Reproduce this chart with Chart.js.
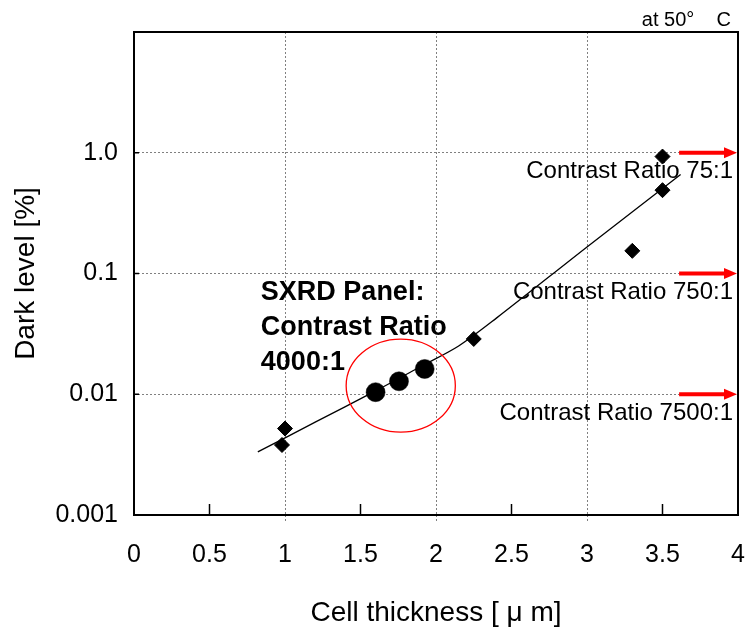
<!DOCTYPE html>
<html>
<head>
<meta charset="utf-8">
<script src="https://cdn.jsdelivr.net/npm/chart.js@4.4.0/dist/chart.umd.min.js"></script>
<style>
  html, body { margin: 0; padding: 0; background: #fff; overflow: hidden; }
  #wrap { width: 748px; height: 630px; }
  canvas { display: block; }
</style>
</head>
<body>
<div id="wrap"><canvas id="myChartDark"></canvas></div>
<script>
// measured cells (diamonds)
const sampleX = [0.98, 1.0, 2.25, 3.30, 3.50, 3.50];
const sampleY = [0.0038, 0.0052, 0.0287, 0.154, 0.49, 0.93];
// SXRD panels (big dots)
const sxrdX = [1.60, 1.755, 1.925];
const sxrdY = [0.0104, 0.0128, 0.0162];
// fitted trend line
const fitX = [0.82, 1.2, 1.6, 1.9, 2.15, 2.4, 3.0, 3.62];
const fitY = [0.00333, 0.00587, 0.01066, 0.01698, 0.0251, 0.0427, 0.166, 0.661];
// contrast ratio reference levels
const refLevels = [1.0, 0.1, 0.01];
const refLabels = ["Contrast Ratio 75:1", "Contrast Ratio 750:1", "Contrast Ratio 7500:1"];
const refArrowFrom = 3.61;
// axes
const yTicks = [0.001, 0.01, 0.1, 1, 10];
const yTickLabels = ["0.001", "0.01", "0.1", "1.0", ""];
const yGrid = [0.01, 0.1, 1];
const xTicks = [0, 0.5, 1, 1.5, 2, 2.5, 3, 3.5, 4];
const xGrid = [1, 2, 3];
const xInnerTicks = [0.5, 1.5, 2.5, 3.5];
// red ring round the SXRD points (data range)
const ringX = [1.405, 2.128];
const ringY = [0.00485, 0.0286];
// note text
const noteLines = ["SXRD Panel:", "Contrast Ratio", "4000:1"];
const notePos = { x: 0.84, y: 0.07 };

Chart.defaults.font.family = '"Liberation Sans", Arial, sans-serif';
Chart.defaults.color = '#000';

const toPts = (xs, ys) => xs.map((x, i) => ({ x: x, y: ys[i] }));

const extras = {
  id: 'extras',
  afterDatasetsDraw(chart) {
    const c = chart.ctx;
    const a = chart.chartArea;
    const xs = chart.scales.x, ys = chart.scales.y;
    c.save();

    // x gridlines poke a little below the axis
    c.strokeStyle = '#808080';
    c.lineWidth = 1;
    c.setLineDash([2, 2]);
    xGrid.forEach(v => {
      const px = Math.round(xs.getPixelForValue(v)) + 0.5;
      c.beginPath(); c.moveTo(px, a.bottom); c.lineTo(px, a.bottom + 6); c.stroke();
    });
    c.setLineDash([]);

    // inner tick marks
    c.strokeStyle = '#000';
    c.lineWidth = 1.5;
    xInnerTicks.forEach(v => {
      const px = xs.getPixelForValue(v);
      c.beginPath(); c.moveTo(px, a.bottom); c.lineTo(px, a.bottom - 11); c.stroke();
    });
    yGrid.forEach(v => {
      const py = ys.getPixelForValue(v);
      c.beginPath(); c.moveTo(a.left, py); c.lineTo(a.left + 5, py); c.stroke();
    });

    // frame
    c.lineWidth = 2;
    c.strokeRect(a.left, a.top, a.right - a.left, a.bottom - a.top);

    // red ring
    const x0 = xs.getPixelForValue(ringX[0]), x1 = xs.getPixelForValue(ringX[1]);
    const y0 = ys.getPixelForValue(ringY[1]), y1 = ys.getPixelForValue(ringY[0]);
    c.strokeStyle = '#ff0000';
    c.lineWidth = 1.3;
    c.beginPath();
    c.ellipse((x0 + x1) / 2, (y0 + y1) / 2, (x1 - x0) / 2, (y1 - y0) / 2, 0, 0, Math.PI * 2);
    c.stroke();

    // red arrows + labels
    refLevels.forEach((lv, i) => {
      const py = ys.getPixelForValue(lv);
      const xa = xs.getPixelForValue(refArrowFrom);
      const xb = a.right - 1;
      c.strokeStyle = '#ff0000';
      c.fillStyle = '#ff0000';
      c.lineWidth = 4;
      c.beginPath(); c.moveTo(xa, py); c.lineTo(xb - 10, py); c.stroke();
      c.beginPath();
      c.moveTo(xb, py); c.lineTo(xb - 13, py - 5.5); c.lineTo(xb - 13, py + 5.5);
      c.closePath(); c.fill();

      c.fillStyle = '#000';
      c.font = '24px "Liberation Sans", Arial, sans-serif';
      c.textAlign = 'right';
      c.textBaseline = 'middle';
      c.fillText(refLabels[i], a.right - 5, py + 19);
    });

    // SXRD note
    c.fillStyle = '#000';
    c.font = 'bold 27px "Liberation Sans", Arial, sans-serif';
    c.textAlign = 'left';
    c.textBaseline = 'middle';
    const nx = xs.getPixelForValue(notePos.x), ny = ys.getPixelForValue(notePos.y);
    noteLines.forEach((t, i) => c.fillText(t, nx, ny + i * 35));

    // temperature note
    c.font = '20px "Liberation Sans", Arial, sans-serif';
    c.textAlign = 'right';
    c.fillText('at 50°    C', a.right - 7, 20);

    c.restore();
  }
};

const ctxDark = document.getElementById('myChartDark');
const myChartDark = new Chart(ctxDark, {
  type: 'scatter',
  data: {
    datasets: [
      {
        label: 'Measured',
        data: toPts(sampleX, sampleY),
        pointStyle: 'rectRot',
        pointRadius: 7.5,
        backgroundColor: '#000',
        borderColor: '#000',
        borderWidth: 1,
        order: 1
      },
      {
        label: 'SXRD',
        data: toPts(sxrdX, sxrdY),
        pointStyle: 'circle',
        pointRadius: 9.5,
        backgroundColor: '#000',
        borderColor: '#000',
        borderWidth: 0.5,
        order: 0
      },
      {
        label: 'Fit',
        data: toPts(fitX, fitY),
        showLine: true,
        pointRadius: 0,
        borderColor: '#000',
        borderWidth: 1.3,
        tension: 0.3,
        order: 2
      }
    ]
  },
  options: {
    responsive: true,
    maintainAspectRatio: false,
    animation: false,
    layout: { padding: { top: 32, right: 5, left: 0, bottom: 0 } },
    plugins: {
      legend: { display: false },
      tooltip: { enabled: false }
    },
    scales: {
      x: {
        type: 'linear',
        min: 0,
        max: 4,
        afterBuildTicks: s => { s.ticks = xTicks.map(v => ({ value: v })); },
        afterFit: s => { s.height = 115; s.paddingLeft = 0; s.paddingRight = 0; },
        ticks: {
          font: { size: 25 },
          padding: 25,
          maxRotation: 0,
          callback: v => String(v)
        },
        grid: {
          drawTicks: false,
          color: c => (c.tick && xGrid.includes(c.tick.value)) ? '#808080' : 'rgba(0,0,0,0)',
          lineWidth: 1
        },
        border: { display: false, dash: [2, 2] },
        title: {
          display: true,
          text: 'Cell thickness [ μ m]',
          font: { size: 28 },
          padding: { top: 0, bottom: 0 }
        }
      },
      y: {
        type: 'logarithmic',
        min: 0.001,
        max: 10,
        afterBuildTicks: s => { s.ticks = yTicks.map(v => ({ value: v })); },
        afterFit: s => { s.width = 134; s.paddingTop = 0; s.paddingBottom = 0; },
        ticks: {
          font: { size: 25 },
          padding: 16,
          callback: (v, i) => yTickLabels[i]
        },
        grid: {
          drawTicks: false,
          color: c => (c.tick && yGrid.includes(c.tick.value)) ? '#808080' : 'rgba(0,0,0,0)',
          lineWidth: 1
        },
        border: { display: false, dash: [2, 2] },
        title: {
          display: true,
          text: 'Dark level [%]',
          font: { size: 28 },
          padding: { top: 9, bottom: 0 }
        }
      }
    }
  },
  plugins: [extras]
});
</script>
</body>
</html>
